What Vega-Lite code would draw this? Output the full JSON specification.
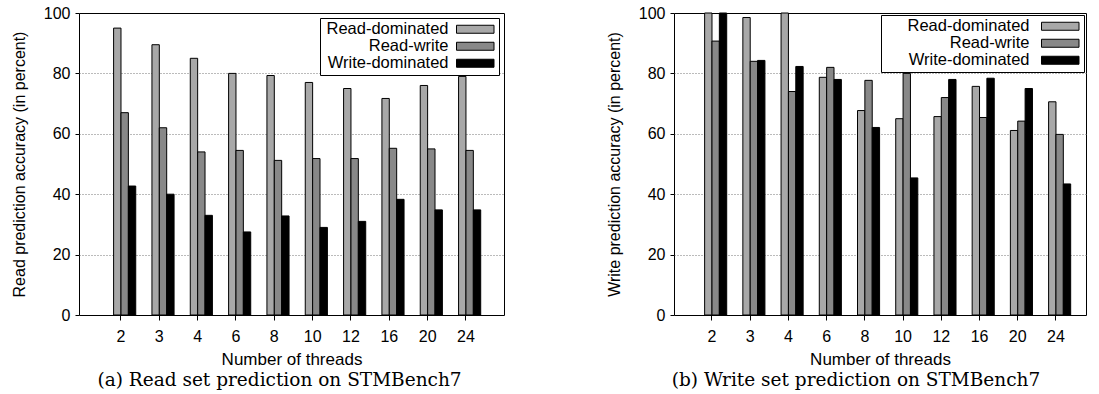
{
  "$schema": "https://vega.github.io/schema/vega-lite/v6.json",
  "background": "white",
  "padding": {"left": 10, "top": 4, "right": 0, "bottom": 0},
  "datasets": {
    "read": [
      {"threads": 2, "workload": "Read-dominated", "accuracy": 95},
      {"threads": 2, "workload": "Read-write", "accuracy": 67},
      {"threads": 2, "workload": "Write-dominated", "accuracy": 42.7},
      {"threads": 3, "workload": "Read-dominated", "accuracy": 89.5},
      {"threads": 3, "workload": "Read-write", "accuracy": 62},
      {"threads": 3, "workload": "Write-dominated", "accuracy": 40},
      {"threads": 4, "workload": "Read-dominated", "accuracy": 85},
      {"threads": 4, "workload": "Read-write", "accuracy": 54},
      {"threads": 4, "workload": "Write-dominated", "accuracy": 33},
      {"threads": 6, "workload": "Read-dominated", "accuracy": 80},
      {"threads": 6, "workload": "Read-write", "accuracy": 54.5},
      {"threads": 6, "workload": "Write-dominated", "accuracy": 27.5},
      {"threads": 8, "workload": "Read-dominated", "accuracy": 79.3},
      {"threads": 8, "workload": "Read-write", "accuracy": 51.2},
      {"threads": 8, "workload": "Write-dominated", "accuracy": 32.8},
      {"threads": 10, "workload": "Read-dominated", "accuracy": 77},
      {"threads": 10, "workload": "Read-write", "accuracy": 51.8},
      {"threads": 10, "workload": "Write-dominated", "accuracy": 29},
      {"threads": 12, "workload": "Read-dominated", "accuracy": 75},
      {"threads": 12, "workload": "Read-write", "accuracy": 51.8},
      {"threads": 12, "workload": "Write-dominated", "accuracy": 31},
      {"threads": 16, "workload": "Read-dominated", "accuracy": 71.7},
      {"threads": 16, "workload": "Read-write", "accuracy": 55.2},
      {"threads": 16, "workload": "Write-dominated", "accuracy": 38.3},
      {"threads": 20, "workload": "Read-dominated", "accuracy": 76},
      {"threads": 20, "workload": "Read-write", "accuracy": 55},
      {"threads": 20, "workload": "Write-dominated", "accuracy": 34.8},
      {"threads": 24, "workload": "Read-dominated", "accuracy": 79},
      {"threads": 24, "workload": "Read-write", "accuracy": 54.5},
      {"threads": 24, "workload": "Write-dominated", "accuracy": 34.8}
    ],
    "write": [
      {"threads": 2, "workload": "Read-dominated", "accuracy": 100},
      {"threads": 2, "workload": "Read-write", "accuracy": 90.7},
      {"threads": 2, "workload": "Write-dominated", "accuracy": 100},
      {"threads": 3, "workload": "Read-dominated", "accuracy": 98.5},
      {"threads": 3, "workload": "Read-write", "accuracy": 84},
      {"threads": 3, "workload": "Write-dominated", "accuracy": 84.3},
      {"threads": 4, "workload": "Read-dominated", "accuracy": 100},
      {"threads": 4, "workload": "Read-write", "accuracy": 74},
      {"threads": 4, "workload": "Write-dominated", "accuracy": 82.3},
      {"threads": 6, "workload": "Read-dominated", "accuracy": 78.7},
      {"threads": 6, "workload": "Read-write", "accuracy": 82},
      {"threads": 6, "workload": "Write-dominated", "accuracy": 78},
      {"threads": 8, "workload": "Read-dominated", "accuracy": 67.7},
      {"threads": 8, "workload": "Read-write", "accuracy": 77.7},
      {"threads": 8, "workload": "Write-dominated", "accuracy": 62.1},
      {"threads": 10, "workload": "Read-dominated", "accuracy": 65},
      {"threads": 10, "workload": "Read-write", "accuracy": 80},
      {"threads": 10, "workload": "Write-dominated", "accuracy": 45.4},
      {"threads": 12, "workload": "Read-dominated", "accuracy": 65.7},
      {"threads": 12, "workload": "Read-write", "accuracy": 72},
      {"threads": 12, "workload": "Write-dominated", "accuracy": 78},
      {"threads": 16, "workload": "Read-dominated", "accuracy": 75.7},
      {"threads": 16, "workload": "Read-write", "accuracy": 65.4},
      {"threads": 16, "workload": "Write-dominated", "accuracy": 78.4},
      {"threads": 20, "workload": "Read-dominated", "accuracy": 61.1},
      {"threads": 20, "workload": "Read-write", "accuracy": 64.2},
      {"threads": 20, "workload": "Write-dominated", "accuracy": 75},
      {"threads": 24, "workload": "Read-dominated", "accuracy": 70.6},
      {"threads": 24, "workload": "Read-write", "accuracy": 59.8},
      {"threads": 24, "workload": "Write-dominated", "accuracy": 43.4}
    ]
  },
  "bounds": "flush",
  "spacing": 170,
  "resolve": {"scale": {"color": "independent", "x": "independent", "y": "independent", "xOffset": "independent"}, "legend": {"color": "independent"}},
  "hconcat": [
    {
      "width": 425,
      "height": 302,
      "data": {"name": "read"},
      "title": {"text": "(a) Read set prediction on STMBench7", "frame": "group", "dx": -12},
      "mark": {"type": "bar", "stroke": "black", "strokeWidth": 1},
      "encoding": {
        "x": {"field": "threads", "type": "ordinal", "sort": [2, 3, 4, 6, 8, 10, 12, 16, 20, 24],
              "scale": {"paddingInner": 0.23, "paddingOuter": 0.659, "align": 0.539},
              "axis": {"title": "Number of threads"}},
        "xOffset": {"field": "workload", "type": "nominal", "scale": {"domain": ["_", "Read-dominated", "Read-write", "Write-dominated"], "paddingInner": 0, "paddingOuter": 0}},
        "y": {"field": "accuracy", "type": "quantitative", "scale": {"domain": [0, 100], "nice": false},
              "axis": {"title": "Read prediction accuracy (in percent)", "values": [0, 20, 40, 60, 80, 100],
                       "gridOpacity": {"condition": {"test": "datum.value === 0 || datum.value === 100", "value": 0}, "value": 1}}},
        "color": {"field": "workload", "type": "nominal",
                  "scale": {"domain": ["Read-dominated", "Read-write", "Write-dominated"], "range": ["#a8a8a8", "#888888", "#000000"]},
                  "legend": {"orient": "top-right", "offset": 5, "title": null,
                             "symbolType": "M-3.75,-0.8H3.75V0.8H-3.75Z", "symbolSize": 100,
                             "symbolStrokeColor": "black", "symbolStrokeWidth": 1,
                             "labelAlign": "right", "labelOffset": -35, "symbolOffset": 144,
                             "encode": {"symbols": {"update": {"stroke": {"value": "black"}, "strokeWidth": {"value": 1}}}}}}
      }
    },
    {
      "width": 412,
      "height": 302,
      "data": {"name": "write"},
      "title": {"text": "(b) Write set prediction on STMBench7", "frame": "group", "dx": -24},
      "mark": {"type": "bar", "stroke": "black", "strokeWidth": 1},
      "encoding": {
        "x": {"field": "threads", "type": "ordinal", "sort": [2, 3, 4, 6, 8, 10, 12, 16, 20, 24],
              "scale": {"paddingInner": 0.23, "paddingOuter": 0.505, "align": 0.603},
              "axis": {"title": "Number of threads"}},
        "xOffset": {"field": "workload", "type": "nominal", "scale": {"domain": ["_", "Read-dominated", "Read-write", "Write-dominated"], "paddingInner": 0, "paddingOuter": 0}},
        "y": {"field": "accuracy", "type": "quantitative", "scale": {"domain": [0, 100], "nice": false},
              "axis": {"title": "Write prediction accuracy (in percent)", "values": [0, 20, 40, 60, 80, 100],
                       "gridOpacity": {"condition": {"test": "datum.value === 0 || datum.value === 100", "value": 0}, "value": 1}}},
        "color": {"field": "workload", "type": "nominal",
                  "scale": {"domain": ["Read-dominated", "Read-write", "Write-dominated"], "range": ["#a8a8a8", "#888888", "#000000"]},
                  "legend": {"orient": "top-right", "offset": 2, "title": null,
                             "symbolType": "M-3.75,-0.8H3.75V0.8H-3.75Z", "symbolSize": 100,
                             "symbolStrokeColor": "black", "symbolStrokeWidth": 1,
                             "labelAlign": "right", "labelOffset": -39, "symbolOffset": 168,
                             "encode": {"symbols": {"update": {"stroke": {"value": "black"}, "strokeWidth": {"value": 1}}}}}}
      }
    }
  ],
  "config": {
    "font": "Liberation Sans",
    "view": {"stroke": "black", "strokeWidth": 1},
    "axis": {"labelFont": "Liberation Sans", "labelFontSize": 16, "labelColor": "black",
             "titleFont": "Liberation Sans", "titleFontSize": 16, "titleFontWeight": "normal", "titleColor": "black",
             "tickColor": "black", "domain": false, "gridColor": "#777777", "gridDash": [1, 2]},
    "axisX": {"tickSize": 5, "labelPadding": 8, "titlePadding": 7, "labelAngle": 0, "grid": false, "titleFontSize": 17},
    "axisY": {"tickSize": 4, "labelPadding": 5, "titlePadding": 16, "grid": true},
    "legend": {"labelFont": "Liberation Sans", "labelFontSize": 16.5, "labelColor": "black",
               "strokeColor": "black", "fillColor": "white", "padding": 3, "rowPadding": 0, "cornerRadius": 0},
    "title": {"font": "DejaVu Serif", "fontSize": 18.5, "fontWeight": "normal", "color": "black", "orient": "bottom", "anchor": "middle", "offset": 4}
  }
}
